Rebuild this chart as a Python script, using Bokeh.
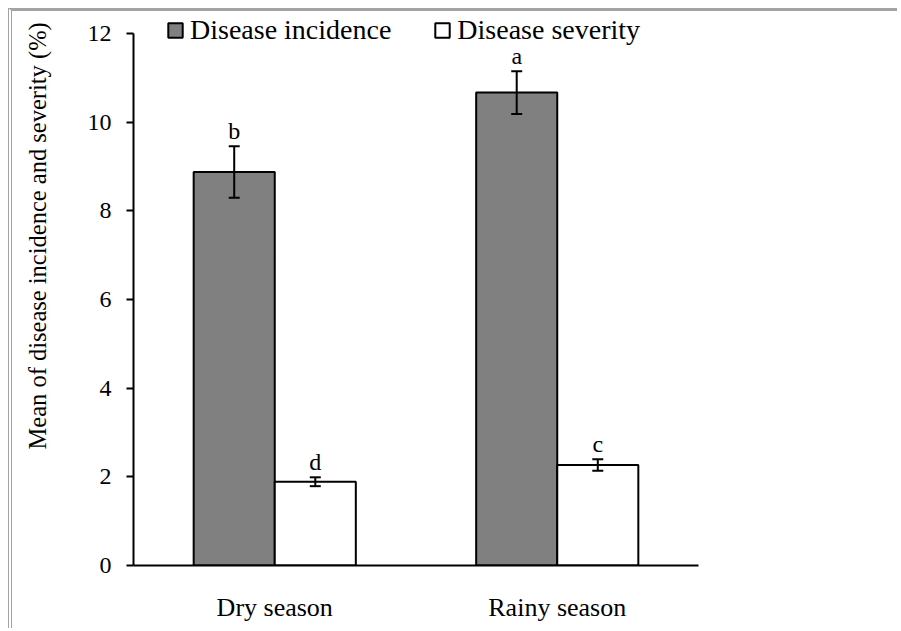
from bokeh.plotting import figure
from bokeh.models import (ColumnDataSource, FactorRange, Range1d, Whisker, TeeHead,
                          Legend, LegendItem, Title, FixedTicker)
from bokeh.transform import dodge
from bokeh.core.properties import value
from bokeh.embed import file_html
from bokeh.resources import INLINE

# ---- data ----
seasons = ["Dry season", "Rainy season"]
series_names = ["Disease incidence", "Disease severity"]
incidence = [8.88, 10.67]
incidence_err = [0.58, 0.48]
severity = [1.89, 2.27]
severity_err = [0.10, 0.13]
incidence_letters = ["b", "a"]
severity_letters = ["d", "c"]
y_ticks = [0, 2, 4, 6, 8, 10, 12]
y_label = "Mean of disease incidence and severity (%)"

FONT = "Liberation Serif"
BAR_W = 0.287
OFF = BAR_W / 2


def make_src(vals, errs, letters):
    return ColumnDataSource(dict(
        season=seasons, val=vals,
        upper=[v + e for v, e in zip(vals, errs)],
        lower=[v - e for v, e in zip(vals, errs)],
        letter=letters))


src_i = make_src(incidence, incidence_err, incidence_letters)
src_s = make_src(severity, severity_err, severity_letters)

# frame extends a little above 12 so the legend is not clipped; axis bounded to 0..12
p = figure(x_range=FactorRange(*seasons), y_range=Range1d(0, 12.5),
           width=889, height=620, output_backend="svg", toolbar_location=None,
           title=None, min_border_left=121, min_border_right=203,
           min_border_top=0, min_border_bottom=66)
p.styles = {"border-top": "3px solid #a3a3a3", "border-left": "4px double #a3a3a3",
            "margin-left": "8px", "margin-top": "8px"}
p.background_fill_color = "white"
p.border_fill_color = "white"
p.outline_line_color = None
p.xgrid.visible = False
p.ygrid.visible = False

r1 = p.vbar(x=dodge("season", -OFF, range=p.x_range), top="val", width=BAR_W,
            source=src_i, fill_color="#808080", line_color="black", line_width=2)
r2 = p.vbar(x=dodge("season", OFF, range=p.x_range), top="val", width=BAR_W,
            source=src_s, fill_color="white", line_color="black", line_width=2)

for src, off in ((src_i, -OFF), (src_s, OFF)):
    w = Whisker(source=src, base=dodge("season", off, range=p.x_range),
                upper="upper", lower="lower", line_color="black", line_width=2,
                upper_head=TeeHead(size=11, line_width=2, line_color="black"),
                lower_head=TeeHead(size=11, line_width=2, line_color="black"),
                level="annotation")
    p.add_layout(w)
    p.text(x=dodge("season", off, range=p.x_range), y="upper", text="letter",
           source=src, y_offset=-15, text_align="center", text_baseline="alphabetic",
           text_font=value(FONT), text_font_size="24px", text_color="black")

# axes
p.yaxis.ticker = FixedTicker(ticks=y_ticks)
p.yaxis.bounds = (y_ticks[0], y_ticks[-1])
p.yaxis.major_label_text_font = FONT
p.yaxis.major_label_text_font_size = "24px"
p.yaxis.major_label_text_color = "black"
p.yaxis.major_tick_out = 7
p.yaxis.major_tick_in = 0
p.yaxis.minor_tick_line_color = None
p.yaxis.major_tick_line_width = 2
p.yaxis.axis_line_width = 2
p.yaxis.major_label_standoff = 15
# invisible spacer label to push the title outward
p.yaxis.axis_label = " "
p.yaxis.axis_label_text_font_size = "1px"
p.yaxis.axis_label_standoff = 30

p.xaxis.major_tick_line_color = None
p.xaxis.minor_tick_line_color = None
p.xaxis.axis_line_width = 2
p.xaxis.major_label_text_font = FONT
p.xaxis.major_label_text_font_size = "26px"
p.xaxis.major_label_text_color = "black"
p.xaxis.major_label_standoff = 21

ytitle = Title(text=y_label, align="left", offset=116, standoff=0,
               vertical_align="bottom", text_font=FONT, text_font_size="24.5px",
               text_font_style="normal", text_color="black")
p.add_layout(ytitle, "left")

legend = Legend(items=[LegendItem(label=series_names[0], renderers=[r1]),
                       LegendItem(label=series_names[1], renderers=[r2])],
                location=(33, 519), orientation="horizontal",
                label_text_font=FONT, label_text_font_size="28px",
                label_text_color="black", label_height=32,
                glyph_width=18, glyph_height=18, label_standoff=6, spacing=42,
                padding=0, margin=0, border_line_color=None,
                background_fill_alpha=0)
p.add_layout(legend)

open("out.html", "w").write(file_html(p, INLINE))
